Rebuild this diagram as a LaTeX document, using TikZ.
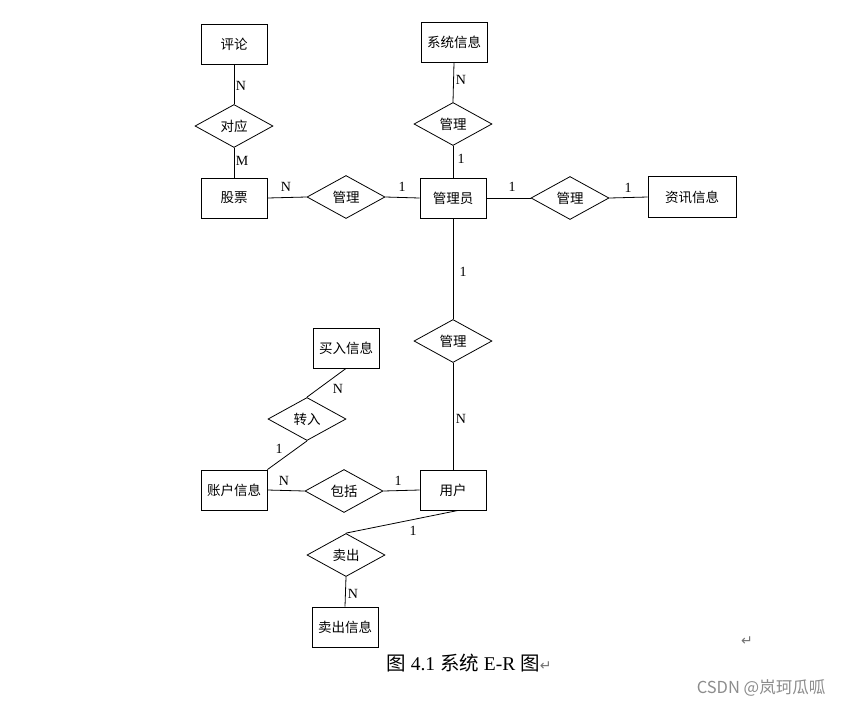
\documentclass[tikz,border=0pt]{standalone}
\usepackage{fontspec}
\setmainfont{Liberation Serif}
\newfontfamily\cjk{Noto Sans CJK SC}
\newfontfamily\symfont{DejaVu Sans}
\usepackage{tikz}
\usetikzlibrary{shapes.geometric, positioning, calc}

\begin{document}
\begin{tikzpicture}[
x=1pt, y=-1pt,
font=\cjk\fontsize{13.5}{15}\selectfont,
entity/.style={
rectangle,
draw=black,
line width=0.9pt,
align=center,
minimum width=66pt,
minimum height=40pt,
inner sep=0pt
},
relation/.style={
diamond,
draw=black,
line width=0.8pt,
align=center,
minimum width=78pt,
minimum height=43pt,
inner sep=0pt
},
link/.style={
line width=0.8pt
},
card/.style={
font=\rmfamily\fontsize{14}{15}\selectfont,
inner sep=0pt
}
]
\useasboundingbox (0,0) rectangle (843,705);

% entities
\node[entity] (comment) at (234,44) {评论};
\node[entity] (stock) at (234,198) {股票};
\node[entity] (admin) at (453,198) {管理员};
\node[entity] (sysinfo) at (454,42) {系统信息};
\node[entity, minimum width=88pt, minimum height=41pt] (news) at (692,197) {资讯信息};
\node[entity] (buyinfo) at (346,348) {买入信息};
\node[entity] (account) at (234,490) {账户信息};
\node[entity] (user) at (453,490) {用户};
\node[entity] (sellinfo) at (345,627) {卖出信息};

% relations
\node[relation] (match) at (234,126) {对应};
\node[relation] (mgrstock) at (346,197) {管理};
\node[relation] (mgrsys) at (453,124) {管理};
\node[relation] (mgrnews) at (570,198) {管理};
\node[relation] (mgruser) at (453,341) {管理};
\node[relation] (transfer) at (307,419) {转入};
\node[relation] (include) at (344,491) {包括};
\node[relation] (sell) at (346,555) {卖出};

% connectors
\draw[link] (comment.south) -- (match.north);
\draw[link] (match.south) -- (stock.north);
\draw[link] (stock.east) -- (mgrstock.west);
\draw[link] (mgrstock.east) -- (admin.west);
\draw[link] (sysinfo.south) -- (mgrsys.north);
\draw[link] (mgrsys.south) -- (admin.north);
\draw[link] (admin.east) -- (mgrnews.west);
\draw[link] (mgrnews.east) -- (news.west);
\draw[link] (admin.south) -- (mgruser.north);
\draw[link] (mgruser.south) -- (user.north);
\draw[link] (buyinfo.south) -- (transfer.north);
\draw[link] (transfer.south) -- (account.north east);
\draw[link] (account.east) -- (include.west);
\draw[link] (include.east) -- (user.west);
\draw[link] ([xshift=5pt]user.south) -- (sell.north);
\draw[link] (sell.south) -- (sellinfo.north);

% cardinalities
\node[card] (c1) at (241,86) {N};
\node[card] (c2) at (242,161) {M};
\node[card] (c3) at (461,80) {N};
\node[card] (c4) at (461,159) {1};
\node[card] (c5) at (286,187) {N};
\node[card] (c6) at (402,187) {1};
\node[card] (c7) at (512,187) {1};
\node[card] (c8) at (628,188) {1};
\node[card] (c9) at (463,272) {1};
\node[card] (c10) at (461,419) {N};
\node[card] (c11) at (338,389) {N};
\node[card] (c12) at (279,449) {1};
\node[card] (c13) at (284,481) {N};
\node[card] (c14) at (398,481) {1};
\node[card] (c15) at (413,531) {1};
\node[card] (c16) at (353,594) {N};

% caption and marks
\node[inner sep=0pt] (caption) at (469,663)
{\fontsize{19.5}{22}\selectfont 图{\rmfamily\ 4.1 }系统{\rmfamily\ E-R }图{\symfont\fontsize{14}{15}\selectfont\color{black!55}↵}};
\node[inner sep=0pt, text=black!55] (retmark) at (747,641) {\symfont\fontsize{14}{15}\selectfont ↵};
\node[inner sep=0pt, text=black!45] (watermark) at (761,688) {\fontsize{16.5}{18}\selectfont CSDN @岚珂瓜呱};
\end{tikzpicture}
\end{document}
